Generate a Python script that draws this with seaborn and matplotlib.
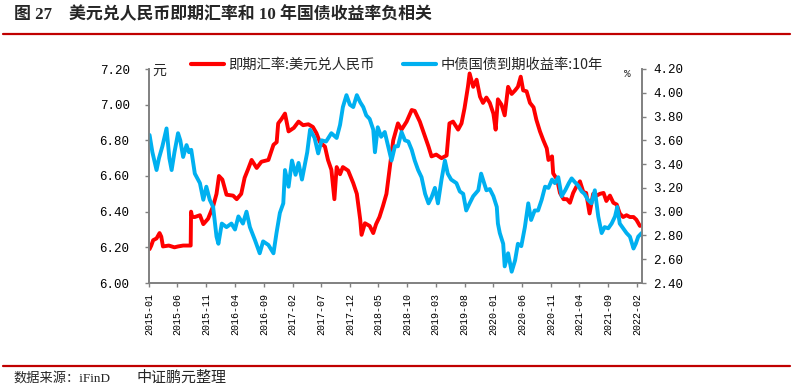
import matplotlib
matplotlib.use("Agg")
import matplotlib.pyplot as plt
import seaborn as sns
import pandas as pd
from matplotlib.lines import Line2D

sns.set_theme(style="white")
plt.rcParams['font.family'] = ['Noto Sans CJK SC', 'DejaVu Sans']
plt.rcParams['axes.unicode_minus'] = False

# ---------------- data ----------------
fx_dates = [
    "2015-01-04", "2015-01-13", "2015-01-23", "2015-02-10", "2015-02-26", "2015-03-07", "2015-03-16",
    "2015-04-16", "2015-05-16", "2015-06-04", "2015-07-01", "2015-08-10", "2015-08-12", "2015-08-18",
    "2015-09-01", "2015-09-28", "2015-10-16", "2015-11-10", "2015-12-07", "2015-12-25", "2016-01-07",
    "2016-01-25", "2016-02-16", "2016-03-22", "2016-04-10", "2016-05-04", "2016-05-22", "2016-06-10",
    "2016-06-28", "2016-07-25", "2016-08-19", "2016-09-25", "2016-10-22", "2016-11-08", "2016-11-16",
    "2016-12-04", "2016-12-22", "2017-01-10", "2017-02-07", "2017-03-04", "2017-03-28", "2017-04-25",
    "2017-05-19", "2017-06-07", "2017-06-25", "2017-07-22", "2017-08-07", "2017-08-25", "2017-09-10",
    "2017-09-22", "2017-10-10", "2017-10-25", "2017-11-22", "2017-12-19", "2018-01-07", "2018-01-25",
    "2018-02-01", "2018-02-19", "2018-03-16", "2018-04-04", "2018-04-19", "2018-05-07", "2018-05-25",
    "2018-06-13", "2018-07-01", "2018-07-19", "2018-08-13", "2018-09-01", "2018-09-28", "2018-10-25",
    "2018-11-10", "2018-12-07", "2018-12-25", "2019-01-22", "2019-02-07", "2019-03-04", "2019-04-01",
    "2019-04-28", "2019-05-13", "2019-06-01", "2019-06-28", "2019-07-16", "2019-08-01", "2019-08-19",
    "2019-08-28", "2019-09-16", "2019-10-04", "2019-10-22", "2019-11-07", "2019-11-25", "2019-12-13",
    "2020-01-01", "2020-01-13", "2020-01-25", "2020-02-13", "2020-03-01", "2020-03-19", "2020-04-07",
    "2020-04-25", "2020-05-10", "2020-05-25", "2020-06-07", "2020-06-25", "2020-07-13", "2020-08-01",
    "2020-08-16", "2020-09-04", "2020-09-22", "2020-10-10", "2020-10-19", "2020-11-07", "2020-11-13",
    "2020-12-04", "2020-12-19", "2021-01-07", "2021-01-25", "2021-02-10", "2021-02-27", "2021-03-16",
    "2021-04-04", "2021-04-22", "2021-05-07", "2021-05-25", "2021-06-13", "2021-07-01", "2021-07-19",
    "2021-08-07", "2021-08-22", "2021-09-10", "2021-09-28", "2021-10-16", "2021-11-01", "2021-11-19",
    "2021-12-07", "2021-12-25", "2022-01-13", "2022-01-28", "2022-02-16",
]
fx_values = [
    6.19, 6.21, 6.24, 6.25, 6.28, 6.26, 6.205,
    6.21, 6.20, 6.205, 6.21, 6.21, 6.40, 6.37,
    6.37, 6.38, 6.33, 6.36, 6.43, 6.50, 6.60,
    6.58, 6.495, 6.49, 6.47, 6.50, 6.59, 6.64,
    6.69, 6.645, 6.68, 6.69, 6.775, 6.79, 6.895,
    6.92, 6.95, 6.85, 6.87, 6.905, 6.885, 6.89,
    6.875, 6.84, 6.79, 6.765, 6.69, 6.635, 6.47,
    6.65, 6.61, 6.65, 6.63, 6.56, 6.50, 6.355,
    6.27, 6.335, 6.32, 6.28, 6.33, 6.37, 6.43,
    6.50, 6.65, 6.80, 6.895, 6.86, 6.905, 6.97,
    6.965, 6.905, 6.85, 6.765, 6.71, 6.72, 6.70,
    6.715, 6.895, 6.905, 6.86, 6.895, 6.98, 7.10,
    7.175, 7.10, 7.14, 7.045, 7.01, 7.04, 7.01,
    6.95, 6.86, 7.03, 7.00, 6.94, 7.10, 7.06,
    7.08, 7.10, 7.157, 7.08, 7.075, 7.01, 6.985,
    6.915, 6.85, 6.80, 6.755, 6.69, 6.71, 6.615,
    6.58, 6.505, 6.47, 6.47, 6.45, 6.505, 6.54,
    6.57, 6.51, 6.505, 6.39, 6.50, 6.49, 6.50,
    6.505, 6.46, 6.49, 6.45, 6.44, 6.39, 6.37,
    6.38, 6.37, 6.37, 6.355, 6.32,
]

bond_dates = [
    "2015-01-04", "2015-01-19", "2015-02-10", "2015-02-23", "2015-03-13", "2015-04-04", "2015-04-19",
    "2015-05-01", "2015-05-16", "2015-06-04", "2015-06-16", "2015-07-01", "2015-07-19", "2015-08-01",
    "2015-08-13", "2015-09-01", "2015-09-28", "2015-10-16", "2015-11-01", "2015-11-19", "2015-12-07",
    "2015-12-25", "2016-01-04", "2016-01-22", "2016-02-16", "2016-03-13", "2016-04-01", "2016-04-19",
    "2016-05-13", "2016-06-01", "2016-06-19", "2016-07-16", "2016-08-10", "2016-08-28", "2016-09-25",
    "2016-10-22", "2016-11-07", "2016-11-25", "2016-12-13", "2016-12-22", "2017-01-10", "2017-01-28",
    "2017-02-16", "2017-03-04", "2017-03-22", "2017-04-07", "2017-04-19", "2017-05-04", "2017-05-28",
    "2017-06-16", "2017-07-04", "2017-07-28", "2017-08-25", "2017-09-22", "2017-10-10", "2017-10-25",
    "2017-11-13", "2017-12-01", "2017-12-19", "2018-01-07", "2018-01-25", "2018-02-10", "2018-02-26",
    "2018-03-16", "2018-04-04", "2018-04-13", "2018-04-28", "2018-05-16", "2018-06-04", "2018-06-22",
    "2018-07-10", "2018-07-28", "2018-08-13", "2018-09-01", "2018-09-19", "2018-10-07", "2018-10-25",
    "2018-11-10", "2018-11-28", "2018-12-16", "2019-01-04", "2019-01-22", "2019-02-07", "2019-02-25",
    "2019-03-13", "2019-04-01", "2019-04-19", "2019-05-04", "2019-05-22", "2019-06-19", "2019-07-07",
    "2019-07-25", "2019-08-10", "2019-08-28", "2019-09-16", "2019-10-13", "2019-10-28", "2019-11-07",
    "2019-11-25", "2019-12-13", "2020-01-01", "2020-01-19", "2020-01-25", "2020-02-04", "2020-02-22",
    "2020-03-01", "2020-03-19", "2020-04-07", "2020-04-25", "2020-05-10", "2020-05-28", "2020-06-16",
    "2020-07-04", "2020-07-19", "2020-08-07", "2020-08-25", "2020-09-13", "2020-10-01", "2020-10-19",
    "2020-11-07", "2020-11-22", "2020-12-10", "2020-12-28", "2021-01-16", "2021-02-04", "2021-02-19",
    "2021-03-07", "2021-03-25", "2021-04-13", "2021-04-28", "2021-05-16", "2021-06-04", "2021-06-22",
    "2021-07-10", "2021-07-28", "2021-08-13", "2021-09-01", "2021-09-19", "2021-10-07", "2021-10-19",
    "2021-11-01", "2021-11-19", "2021-12-07", "2021-12-25", "2022-01-13", "2022-01-25", "2022-02-07",
    "2022-02-25",
]
bond_values = [
    3.645, 3.50, 3.35, 3.45, 3.55, 3.70, 3.45,
    3.35, 3.50, 3.66, 3.60, 3.46, 3.56, 3.50,
    3.52, 3.32, 3.24, 3.10, 3.21, 3.10, 3.04,
    2.79, 2.73, 2.90, 2.87, 2.90, 2.85, 2.96,
    2.90, 3.00, 2.87, 2.76, 2.65, 2.75, 2.72,
    2.65, 2.82, 2.99, 3.07, 3.35, 3.21, 3.43,
    3.31, 3.41, 3.27, 3.40, 3.50, 3.69, 3.62,
    3.49, 3.60, 3.59, 3.66, 3.62, 3.73, 3.88,
    3.98, 3.90, 3.88, 3.98, 3.92, 3.88, 3.81,
    3.78, 3.69, 3.50, 3.71, 3.63, 3.67, 3.55,
    3.43, 3.55, 3.55, 3.67, 3.60, 3.59, 3.52,
    3.43, 3.35, 3.29, 3.15, 3.07, 3.12, 3.20,
    3.07, 3.27, 3.43, 3.32, 3.27, 3.24, 3.17,
    3.15, 3.01, 3.07, 3.13, 3.18, 3.32, 3.27,
    3.18, 3.19, 3.13, 3.04, 2.90, 2.82, 2.73,
    2.54, 2.65, 2.495, 2.59, 2.73, 2.71, 2.87,
    3.07, 2.93, 3.01, 3.01, 3.10, 3.21, 3.20,
    3.27, 3.24, 3.29, 3.13, 3.18, 3.24, 3.28,
    3.25, 3.22, 3.17, 3.15, 3.10, 3.07, 3.18,
    2.96, 2.82, 2.87, 2.86, 2.90, 2.96, 3.04,
    2.90, 2.86, 2.82, 2.79, 2.69, 2.73, 2.79,
    2.82,
]

xtick_labels = ["2015-01", "2015-06", "2015-11", "2016-04", "2016-09", "2017-02",
                "2017-07", "2017-12", "2018-05", "2018-10", "2019-03", "2019-08",
                "2020-01", "2020-06", "2020-11", "2021-04", "2021-09", "2022-02"]
left_ticks = [6.00, 6.20, 6.40, 6.60, 6.80, 7.00, 7.20]
right_ticks = [2.40, 2.60, 2.80, 3.00, 3.20, 3.40, 3.60, 3.80, 4.00, 4.20]

series_fx = "即期汇率:美元兑人民币"
series_bond = "中债国债到期收益率:10年"
title_num = "图 27"
title_text = "美元兑人民币即期汇率和 10 年国债收益率负相关"
source_text = "数据来源：iFinD"
source_org = "中证鹏元整理"

# ---------------- figure ----------------
W, H = 795, 390
L, R, T, B = 149, 642, 69, 283
red = "#FF0000"
blue = "#00B0F0"
gray = "#808080"
serif_cjk = ["Liberation Serif", "Noto Sans CJK SC"]

fig = plt.figure(figsize=(W / 100, H / 100), dpi=100)
fig.patch.set_facecolor("white")
ax = fig.add_axes([L / W, 1 - B / H, (R - L) / W, (B - T) / H])
ax2 = ax.twinx()

df_fx = pd.DataFrame({"date": pd.to_datetime(fx_dates), "value": fx_values})
df_bd = pd.DataFrame({"date": pd.to_datetime(bond_dates), "value": bond_values})

sns.lineplot(data=df_fx, x="date", y="value", ax=ax, color=red, lw=2.8, legend=False)
sns.lineplot(data=df_bd, x="date", y="value", ax=ax2, color=blue, lw=2.8, legend=False)

ax.set_xlim(pd.Timestamp("2015-01-01"), pd.Timestamp("2022-02-27"))
ax.set_ylim(6.0, 7.2)
ax2.set_ylim(2.4, 4.2)

ax.set_xticks(pd.to_datetime(xtick_labels))
ax.set_xticklabels(xtick_labels, rotation=90, family="Liberation Mono", fontsize=7.2)
ax.set_yticks(left_ticks)
ax.set_yticklabels([f"{v:.2f}" for v in left_ticks], family="Liberation Mono", fontsize=9)
ax2.set_yticks(right_ticks)
ax2.set_yticklabels([f"{v:.2f}" for v in right_ticks], family="Liberation Mono", fontsize=9)

for a in (ax, ax2):
    a.set_xlabel("")
    a.set_ylabel("")
    a.set_facecolor("none")
    a.spines["top"].set_visible(False)
    for s in ("left", "right", "bottom"):
        a.spines[s].set_color(gray)
        a.spines[s].set_linewidth(1.2)
    a.grid(False)

ax.tick_params(axis="y", left=True, right=False, direction="out", length=3, width=1,
               color=gray, pad=11, labelcolor="black")
ax.tick_params(axis="x", bottom=True, direction="out", length=3, width=1,
               color=gray, pad=4, labelcolor="black")
ax2.tick_params(axis="y", right=True, left=False, direction="out", length=3, width=1,
                color=gray, pad=5, labelcolor="black")

# units
fig.text(152 / W, 1 - 71 / H, "元", ha="left", va="center", fontsize=10)
fig.text(631 / W, 1 - 74 / H, "%", ha="right", va="center", fontsize=8,
         family="Liberation Mono")

# legend
handles = [Line2D([], [], color=red, lw=3), Line2D([], [], color=blue, lw=3)]
fig.legend(handles, [series_fx, series_bond], loc="center",
           bbox_to_anchor=(397 / W, 1 - 65 / H), ncol=2, frameon=False, fontsize=10.3,
           handlelength=2.3, handletextpad=0.3, columnspacing=2.0, borderpad=0)

# title and rules
fig.text(14 / W, 1 - 15 / H, title_num, ha="left", va="center", fontsize=12.2,
         fontweight="bold", family=serif_cjk)
fig.text(69 / W, 1 - 15 / H, title_text, ha="left", va="center", fontsize=12.2,
         fontweight="bold", family=serif_cjk)
fig.add_artist(Line2D([3 / W, 790 / W], [1 - 33.5 / H, 1 - 33.5 / H], color="#C00000",
                      lw=1.6, transform=fig.transFigure))
fig.add_artist(Line2D([3 / W, 790 / W], [1 - 366 / H, 1 - 366 / H], color="#C00000",
                      lw=1.6, transform=fig.transFigure))
fig.text(13 / W, 1 - 378 / H, source_text, ha="left", va="center", fontsize=9.5,
         family=serif_cjk)
fig.text(136 / W, 1 - 378 / H, source_org, ha="left", va="center", fontsize=10.8,
         family=serif_cjk)

fig.savefig("out.png", dpi=100, facecolor="white")
